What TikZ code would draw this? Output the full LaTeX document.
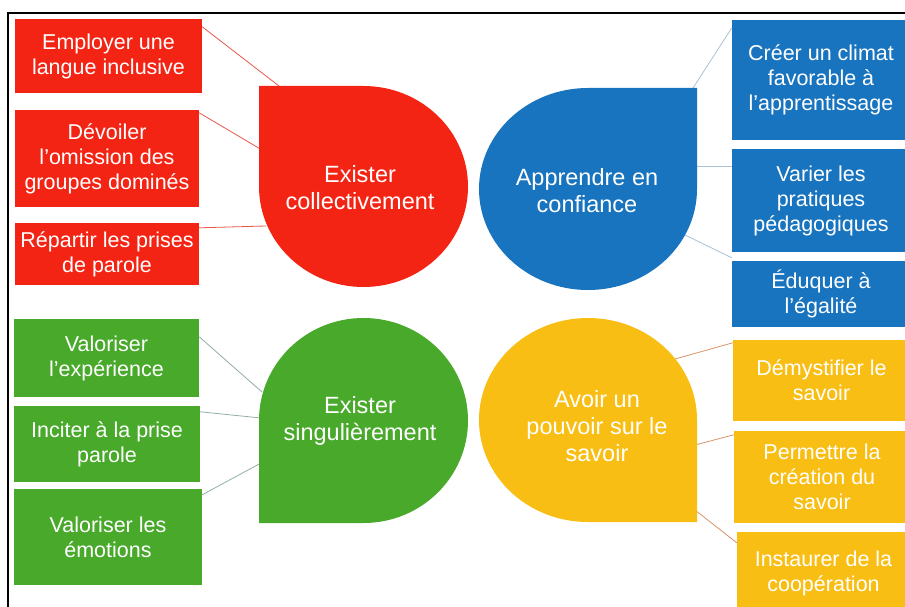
\documentclass[tikz,border=0pt]{standalone}
\usepackage{fontspec}
\setmainfont{Liberation Sans}
\usetikzlibrary{calc}
\definecolor{cred}{HTML}{F42414}
\definecolor{cblue}{HTML}{1874BE}
\definecolor{cgreen}{HTML}{48A92B}
\definecolor{cyellow}{HTML}{F9BE13}
\definecolor{lred}{HTML}{E8584C}
\definecolor{lblue}{HTML}{A9C2D6}
\definecolor{lgreen}{HTML}{94ADAA}
\definecolor{lyellow}{HTML}{D9946A}
\begin{document}
\begin{tikzpicture}[x=1pt,y=-1pt,
  box/.style={fill=#1, text=white, align=center, inner sep=0pt,
    font=\fontsize{21.5}{25}\selectfont},
  dtext/.style={text=white, align=center, inner sep=0pt,
    font=\fontsize{23.5}{27}\selectfont},
  link/.style={draw=#1, line width=0.8pt},
  frame/.style={draw=black, line width=2pt}]
\clip (0,0) rectangle (905,607);
\fill[white] (0,0) rectangle (905,607);
\draw[frame] (8,610) -- (8,13) -- (910,13);

% red boxes
\node[box=cred, minimum width=187pt, minimum height=74pt] (r1) at (108.5,56) {Employer une\\langue inclusive};
\node[box=cred, minimum width=184pt, minimum height=97pt] (r2) at (107,158.5) {Dévoiler\\l’omission des\\groupes dominés};
\node[box=cred, minimum width=184pt, minimum height=62pt] (r3) at (107,254) {Répartir les prises\\de parole};
% blue boxes
\node[box=cblue, minimum width=178pt, minimum height=120pt] (b1) at (821,80) {Créer un climat\\favorable à\\l’apprentissage};
\node[box=cblue, minimum width=178pt, minimum height=103pt] (b2) at (821,200.5) {Varier les\\pratiques\\pédagogiques};
\node[box=cblue, minimum width=178pt, minimum height=66pt] (b3) at (821,294) {Éduquer à\\l’égalité};
% green boxes
\node[box=cgreen, minimum width=185pt, minimum height=78pt] (g1) at (106.5,358) {Valoriser\\l’expérience};
\node[box=cgreen, minimum width=186pt, minimum height=76pt] (g2) at (107,444) {Inciter à la prise\\parole};
\node[box=cgreen, minimum width=188pt, minimum height=96pt] (g3) at (108,537) {Valoriser les\\émotions};
% yellow boxes
\node[box=cyellow, minimum width=177pt, minimum height=81pt] (y1) at (821.5,380.5) {Démystifier le\\savoir};
\node[box=cyellow, minimum width=176pt, minimum height=92pt] (y2) at (822,477) {Permettre la\\création du\\savoir};
\node[box=cyellow, minimum width=173pt, minimum height=82pt] (y3) at (823.5,573) {Instaurer de la\\coopération};

% drop-side connector ends
\coordinate (dr1) at (279,86);
\coordinate (dr2) at (262,150);
\coordinate (dr3) at (266,226);
\coordinate (db1) at (693,88);
\coordinate (db2) at (695,166);
\coordinate (db3) at (685,235);
\coordinate (dg1) at (262,392);
\coordinate (dg2) at (261,418);
\coordinate (dg3) at (261,463);
\coordinate (dy1) at (675,359);
\coordinate (dy2) at (695,445);
\coordinate (dy3) at (695,510);

\draw[link=lred] ([yshift=-8pt]r1.north east) -- (dr1);
\draw[link=lred] ([yshift=-3pt]r2.north east) -- (dr2);
\draw[link=lred] ([yshift=-5pt]r3.north east) -- (dr3);
\draw[link=lblue] (db1) -- ([yshift=-8pt]b1.north west);
\draw[link=lblue] (db2) -- (b2.west |- db2);
\draw[link=lblue] (db3) -- ([yshift=3pt]b3.north west);
\draw[link=lgreen] ([yshift=-18pt]g1.north east) -- (dg1);
\draw[link=lgreen] ([yshift=-6pt]g2.north east) -- (dg2);
\draw[link=lgreen] ([yshift=-6pt]g3.north east) -- (dg3);
\draw[link=lyellow] (dy1) -- ([yshift=-3pt]y1.north west);
\draw[link=lyellow] (dy2) -- ([yshift=-4pt]y2.north west);
\draw[link=lyellow] (dy3) -- ([yshift=-11pt]y3.north west);

% drops
\fill[cred] (259,186.5) -- (259,86) -- (363.5,86)
  arc[start angle=90, end angle=-180, x radius=104.5pt, y radius=100.5pt] -- cycle;
\fill[cblue] (588,88) -- (697,88) -- (697,189)
  arc[start angle=0, end angle=-270, x radius=109pt, y radius=101pt] -- cycle;
\fill[cgreen] (363.5,523) -- (259,523) -- (259,420.5)
  arc[start angle=180, end angle=-90, x radius=104.5pt, y radius=102.5pt] -- cycle;
\fill[cyellow] (697,420) -- (697,522) -- (588,522)
  arc[start angle=270, end angle=0, x radius=109pt, y radius=102pt] -- cycle;

\node[dtext] (tr) at (360,188) {Exister\\collectivement};
\node[dtext] (tb) at (587,191) {Apprendre en\\confiance};
\node[dtext] (tg) at (360,421) {Exister\\singulièrement};
\node[dtext] (ty) at (597,426) {Avoir un\\pouvoir sur le\\savoir};
\end{tikzpicture}
\end{document}
